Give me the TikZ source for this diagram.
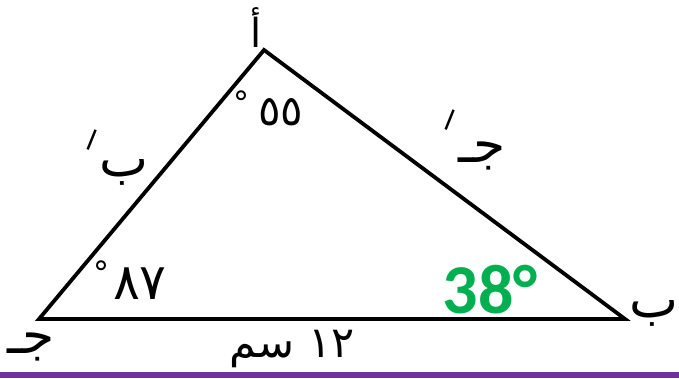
\documentclass[tikz,border=0pt]{standalone}
\usepackage{fontspec}
\TeXXeTstate=1
\newfontfamily\arabicfont[Script=Arabic]{DejaVu Sans}
\newfontfamily\latinbold{Carlito}
\definecolor{angG}{HTML}{00B050}
\definecolor{barP}{HTML}{7030A0}
\newcommand\arsz[1]{\arabicfont\fontsize{#1}{#1}\selectfont}
\tikzset{
  tri/.style={line width=3.8pt, line join=miter},
  lbl/.style={inner sep=0pt},
  tick/.style={inner sep=0pt, rotate=-22, font=\arsz{28}},
  deg/.style={inner sep=0pt, font=\arsz{32}},
}
\begin{document}
\begin{tikzpicture}[x=1pt,y=-1pt]
\useasboundingbox (0,0) rectangle (679,378);
\fill[white] (0,0) rectangle (679,378);
\fill[barP] (0,372) rectangle (679,378);
\coordinate (A) at (264,50);
\coordinate (B) at (625,319);
\coordinate (C) at (39,319);
\draw[tri] (A) -- (B) -- (C) -- cycle;
% vertex labels
\node[lbl, font=\arsz{40}] (lA) at (256,28) {\beginR أ\endR};
\node[lbl, font=\arsz{52}] (lB) at (654,313) {\beginR ب\endR};
\node[lbl, font=\arsz{52}] (lC) at (31,347) {\beginR جـ\endR};
% side labels
\node[lbl, font=\arsz{52}] (sAC) at (124,172) {\beginR ب\endR};
\node[tick] (mAC) at (92,140) {ا};
\node[lbl, font=\arsz{52}] (sAB) at (482,156) {\beginR جـ\endR};
\node[tick] (mAB) at (450,120) {ا};
\node[lbl, font=\arsz{43}] (sBC) at (292,349) {\beginR ١٢ سم\endR};
% angles
\node[lbl, font=\arsz{42}] (aA) at (281,112) {٥٥};
\node[deg] (dA) at (241,103) {°};
\node[lbl, font=\arsz{50}] (aC) at (140,284) {٨٧};
\node[deg] (dC) at (101,273) {°};
\node[lbl, text=angG, font=\latinbold\bfseries\fontsize{70}{70}\selectfont] (aB) at (490,290) {38°};
\end{tikzpicture}
\end{document}
